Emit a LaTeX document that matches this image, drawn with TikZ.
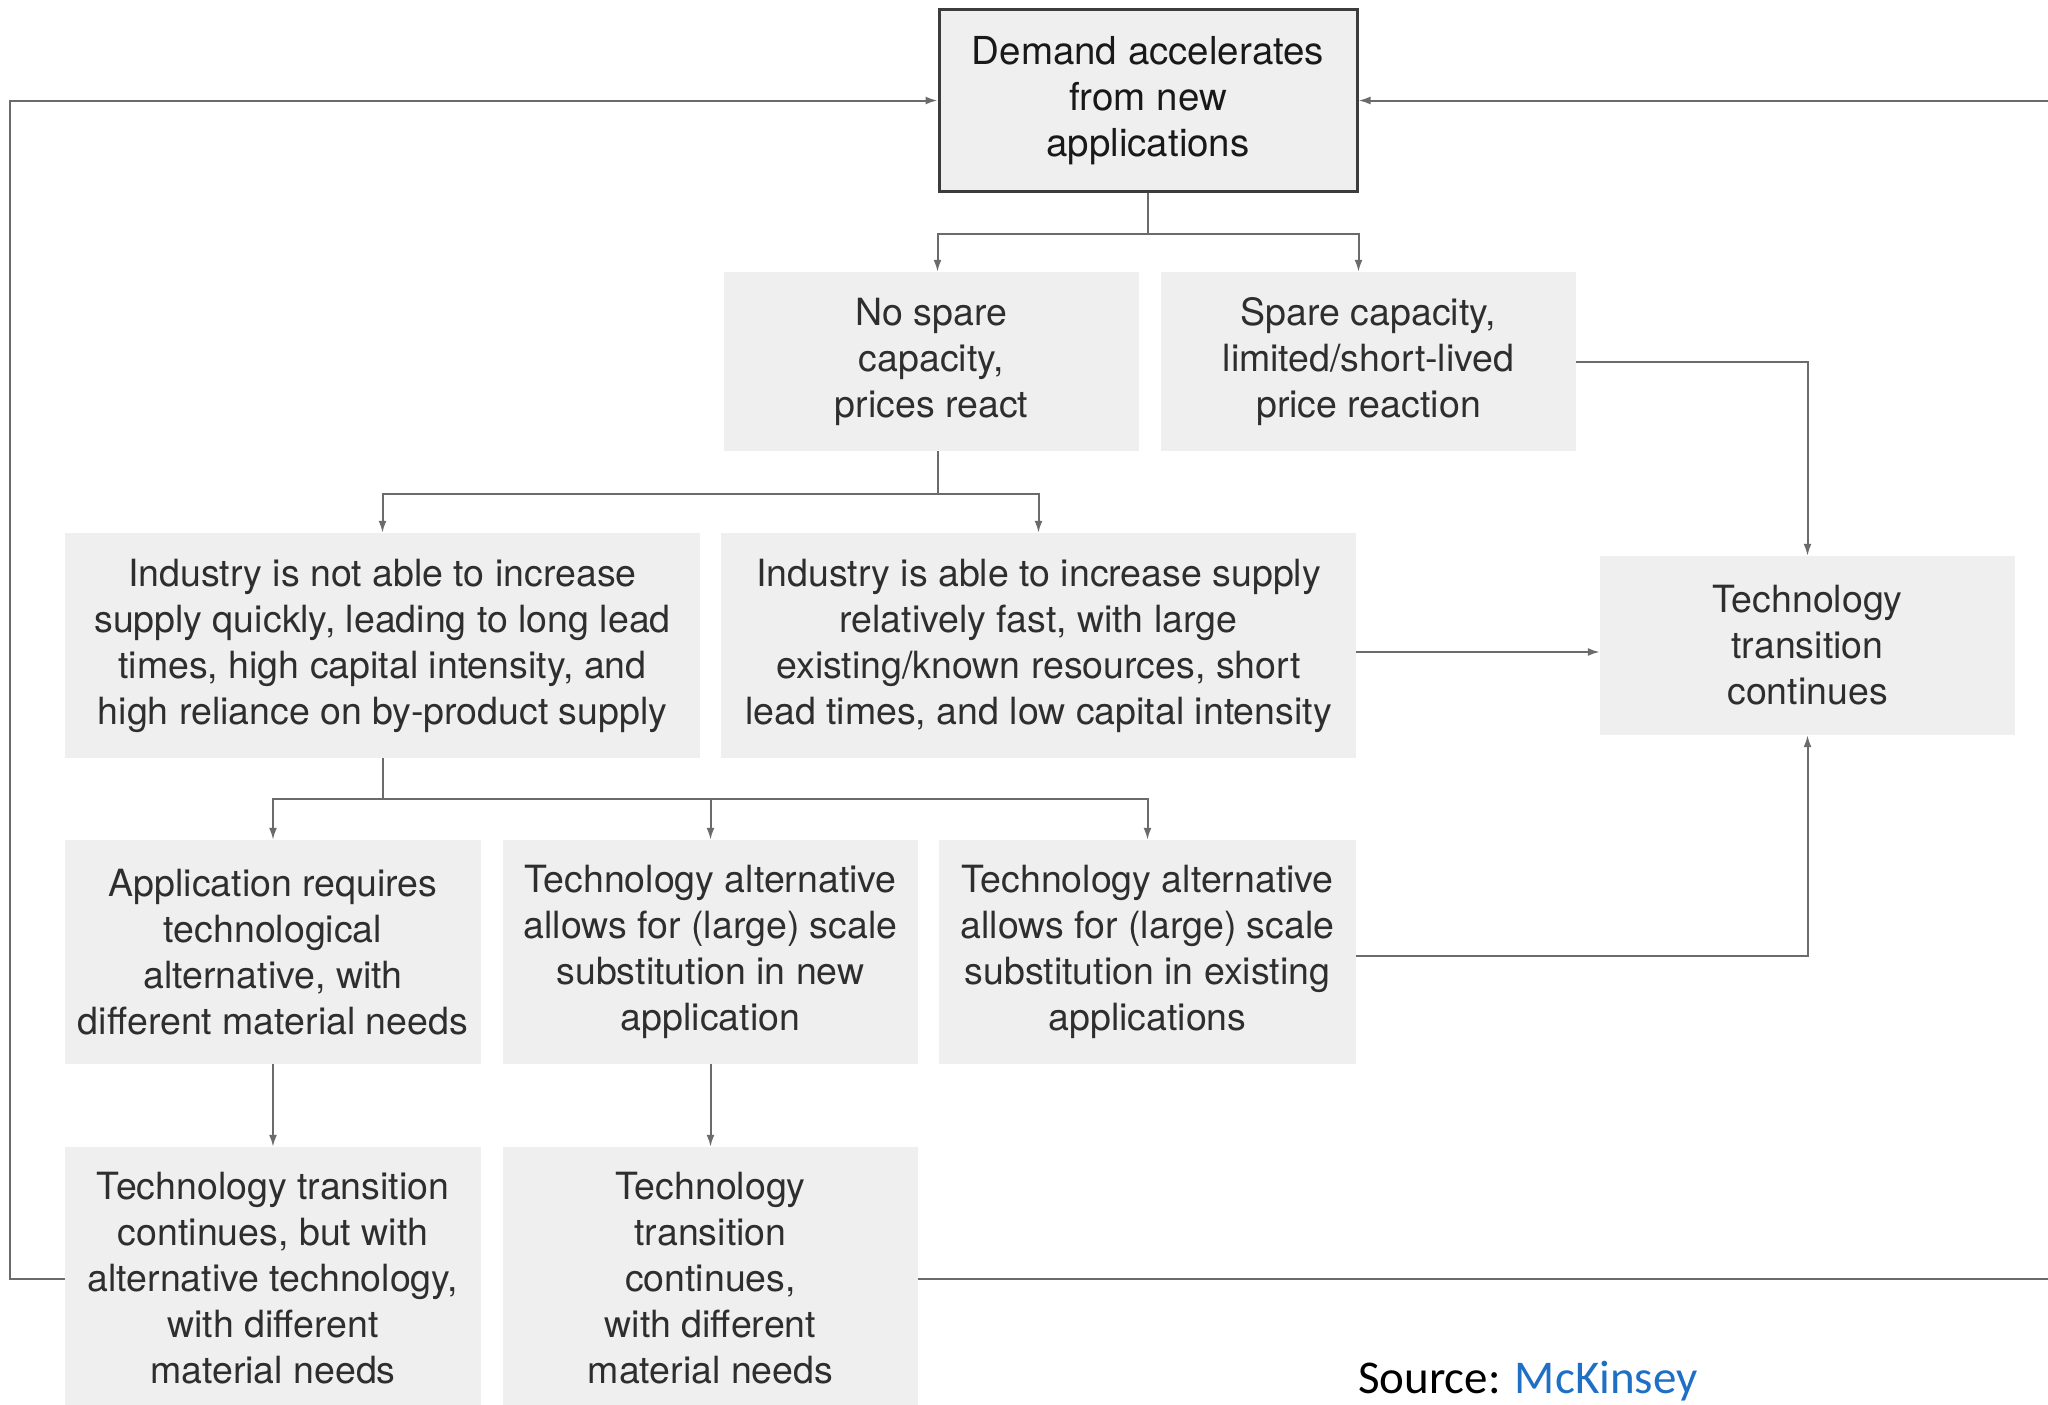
\documentclass[tikz,border=0pt]{standalone}
\usepackage{fontspec}
\setmainfont{TeX Gyre Heros}
\newfontfamily\srcfont{Carlito}
\usetikzlibrary{arrows.meta}
\definecolor{boxfill}{HTML}{EFEFEF}
\definecolor{linegray}{HTML}{6B6B6B}
\definecolor{txt}{HTML}{2E2E2E}
\definecolor{topborder}{HTML}{3C3C3C}
\definecolor{mckblue}{HTML}{1F6FC5}
\begin{document}
\begin{tikzpicture}[x=1pt,y=-1pt,
  box/.style={fill=boxfill, draw=none, inner sep=0pt, align=center, text=txt,
    font=\fontsize{37.5}{46}\selectfont},
  conn/.style={draw=linegray, line width=2pt},
  arr/.style={conn, -{Latex[length=12pt,width=8pt]}}]
\useasboundingbox (0,0) rectangle (2048,1405);

\node[box, minimum width=418pt, minimum height=181pt, draw=topborder, line width=3pt,
  text=black!90, font=\fontsize{38.5}{46}\selectfont] (demand) at (1148,100.5)
  {Demand accelerates\\from new\\applications};

\node[box, minimum width=415pt, minimum height=179pt] (nospare) at (931.5,361.5)
  {No spare\\capacity,\\prices react};
\node[box, minimum width=415pt, minimum height=179pt] (spare) at (1368.5,361.5)
  {Spare capacity,\\limited/short-lived\\price reaction};

\node[box, minimum width=635pt, minimum height=225pt] (notable) at (382.5,645.5)
  {Industry is not able to increase\\supply quickly, leading to long lead\\times, high capital intensity, and\\high reliance on by-product supply};
\node[box, minimum width=635pt, minimum height=225pt] (able) at (1038.5,645.5)
  {Industry is able to increase supply\\relatively fast, with large\\existing/known resources, short\\lead times, and low capital intensity};
\node[box, minimum width=415pt, minimum height=179pt] (tech) at (1807.5,645.5)
  {Technology\\transition\\continues};

\node[box, minimum width=416pt, minimum height=224pt] (app) at (273,952)
  {Application requires\\technological\\alternative, with\\different material needs};
\node[box, minimum width=415pt, minimum height=224pt] (altnew) at (710.5,952)
  {Technology alternative\\allows for (large) scale\\substitution in new\\application};
\node[box, minimum width=417pt, minimum height=224pt] (altexist) at (1147.5,952)
  {Technology alternative\\allows for (large) scale\\substitution in existing\\applications};

\node[box, minimum width=416pt, minimum height=263pt] (tc1) at (273,1278.5)
  {Technology transition\\continues, but with\\alternative technology,\\with different\\material needs};
\node[box, minimum width=415pt, minimum height=263pt] (tc2) at (710.5,1278.5)
  {Technology\\transition\\continues,\\with different\\material needs};

\node[anchor=base west, inner sep=0pt, font=\srcfont\fontsize{47}{56}\selectfont] (src)
  at (1358,1393) {Source: \textcolor{mckblue}{McKinsey}};

% connectors
\draw[conn] (demand.south) -- ++(0,41) coordinate (j1);
\draw[arr] (j1) -| (nospare.north -| demand.west);
\draw[arr] (j1) -| (spare.north -| demand.east);
\draw[arr] (spare.east) -| (tech.north);

\draw[conn] (nospare.south -| demand.west) -- ++(0,43) coordinate (j2);
\draw[arr] (j2) -| (notable.north);
\draw[arr] (j2) -| (able.north);
\draw[arr] ([yshift=-6.5pt]able.east) -- ([yshift=-6.5pt]tech.west);

\draw[conn] (notable.south) -- ++(0,41) coordinate (j3);
\draw[arr] (j3) -| (app.north);
\draw[arr] (j3) -| (altnew.north);
\draw[arr] (j3) -| (altexist.north);
\draw[arr] ([yshift=-4pt]altexist.east) -| (tech.south);

\draw[arr] (app.south) -- (tc1.north);
\draw[arr] (altnew.south) -- (tc2.north);

\coordinate (lft) at (10,0);
\coordinate (rgt) at (2049,0);
\draw[arr] (tc1.west) -- (tc1.west -| lft) |- (demand.west);
\draw[conn] (tc2.east) -- (tc2.east -| rgt);
\draw[arr] (demand.east -| rgt) -- (demand.east);
\end{tikzpicture}
\end{document}
